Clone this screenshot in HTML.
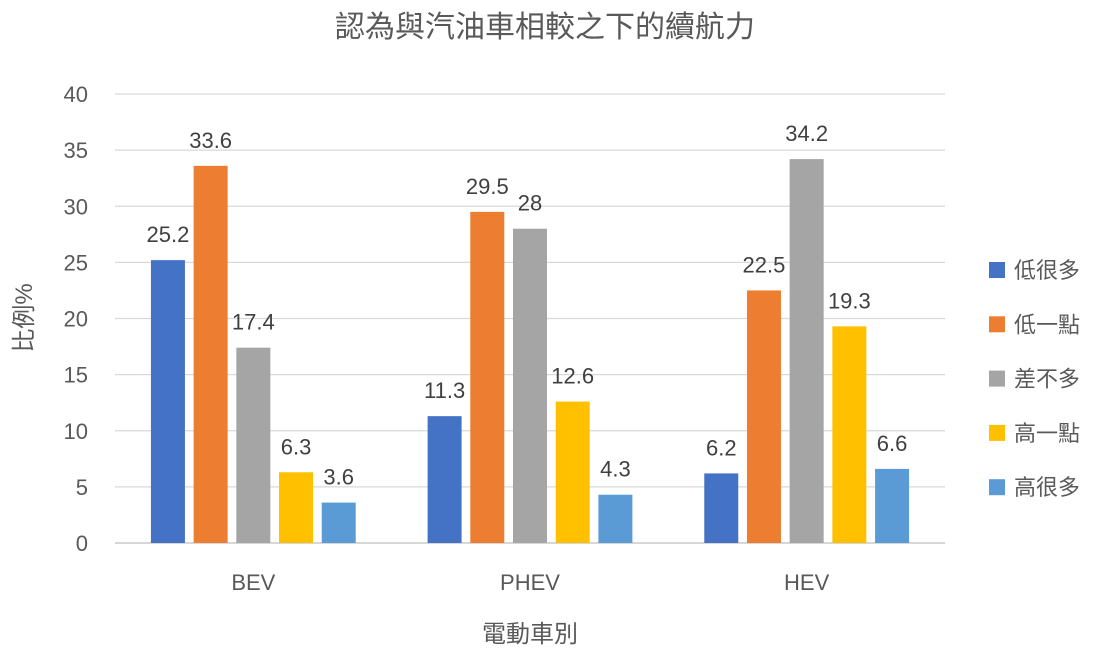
<!DOCTYPE html>
<html><head><meta charset="utf-8"><style>
body{margin:0;background:#fff;}
svg text{font-family:"Liberation Sans","Noto Sans CJK TC",sans-serif;}
</style></head><body>
<svg id="chart" width="1107" height="655" xmlns="http://www.w3.org/2000/svg">
<text x="545" y="37" text-anchor="middle" font-size="30" fill="#595959">認為與汽油車相較之下的續航力</text>
<text transform="translate(32,318) rotate(-90)" text-anchor="middle" font-size="24" fill="#595959">比例%</text>
<text x="530" y="642" text-anchor="middle" font-size="24" fill="#595959">電動車別</text>
<g id="grid"></g><g id="bars"></g><g id="legend"></g>
</svg>
<script>
const categories=["BEV","PHEV","HEV"];
const seriesNames=["低很多","低一點","差不多","高一點","高很多"];
const s1=[25.2,11.3,6.2];
const s2=[33.6,29.5,22.5];
const s3=[17.4,28,34.2];
const s4=[6.3,12.6,19.3];
const s5=[3.6,4.3,6.6];
const yTicks=[0,5,10,15,20,25,30,35,40];
const series=[s1,s2,s3,s4,s5];
const colors=["#4472C4","#ED7D31","#A5A5A5","#FFC000","#5B9BD5"];
const NS="http://www.w3.org/2000/svg";
const x0=115,x1=945,y0=543,yTop=94,yMax=40;
const y=v=>y0-(v/yMax)*(y0-yTop);
const bw=(x1-x0)/categories.length;
function mk(t,a,p){const e=document.createElementNS(NS,t);for(const k in a)e.setAttribute(k,a[k]);p.appendChild(e);return e;}
const grid=document.getElementById('grid');
yTicks.forEach(t=>{
 const l=mk('line',{x1:x0,x2:x1,y1:y(t),y2:y(t),stroke:t===0?'#BFBFBF':'#D9D9D9','stroke-width':1.3},grid);
 
 
 const tx=mk('text',{x:88,y:y(t)+8,'text-anchor':'end','font-size':22,fill:'#595959'},grid);
 tx.textContent=t;
 
 
});
const bars=document.getElementById('bars');
categories.forEach((c,i)=>{
 const cx=x0+bw*(i+0.5);
 const tx=mk('text',{x:cx,y:590,'text-anchor':'middle','font-size':22,fill:'#595959'},bars);
 tx.textContent=c;
 
 
 series.forEach((s,j)=>{
  const bx=cx+(j-2)*42.7-17;
  const r=mk('rect',{x:bx,y:y(s[i]),width:34,height:y0-y(s[i]),fill:colors[j]},bars);
  
  
  const lb=mk('text',{x:bx+17,y:y(s[i])-18,'text-anchor':'middle','font-size':22,fill:'#404040','font-weight':'500'},bars);
  lb.textContent=s[i];
  
  
 });
});
const lg=document.getElementById('legend');
seriesNames.forEach((n,j)=>{
 const yy=270+j*54.3;
 const g=mk('g',{},lg);
 
 
 mk('rect',{x:989,y:yy-8,width:16,height:16,fill:colors[j]},g);
 const t=mk('text',{x:1014,y:yy+8,'font-size':22,fill:'#595959'},g);
 t.textContent=n;
});
</script>
</body></html>
